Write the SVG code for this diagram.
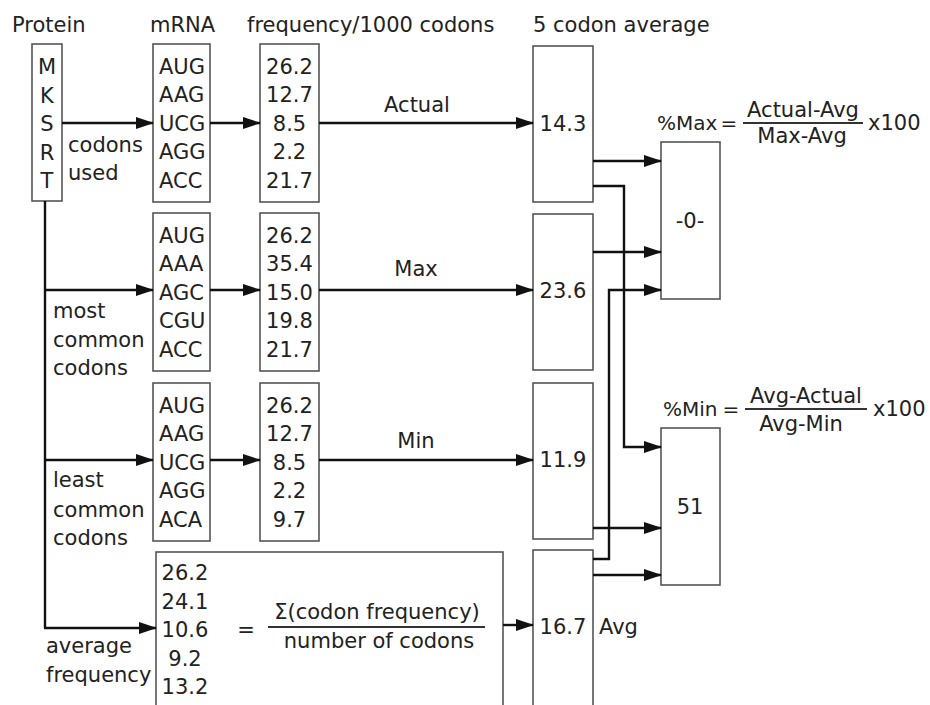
<svg xmlns="http://www.w3.org/2000/svg" width="930" height="705" viewBox="0 0 930 705">
<defs>
<style>
text{font-family:"DejaVu Sans","Liberation Sans",sans-serif;font-size:21px;fill:#222}
.c{text-anchor:middle}
.box{fill:#fff;stroke:#555;stroke-width:1.6}
.con{fill:none;stroke:#111;stroke-width:2.4}
.rule{stroke:#333;stroke-width:1.8}
.sm{font-size:20px}
</style>
<marker id="ah" markerUnits="userSpaceOnUse" markerWidth="18" markerHeight="12" refX="17" refY="6" orient="auto">
<path d="M0,0 L18,6 L0,12 z" fill="#111"/>
</marker>
</defs>
<rect width="930" height="705" fill="#fff"/>

<g id="headers">
<text x="12" y="32">Protein</text>
<text x="150" y="32">mRNA</text>
<text x="247" y="32">frequency/1000 codons</text>
<text x="533" y="32">5 codon average</text>
</g>

<g id="protein">
<rect class="box" x="32" y="44" width="30" height="157"/>
<text class="c" x="47" y="74">M</text>
<text class="c" x="47" y="102.5">K</text>
<text class="c" x="47" y="131">S</text>
<text class="c" x="47" y="159.5">R</text>
<text class="c" x="47" y="188">T</text>
</g>

<g id="mrna-actual">
<rect class="box" x="153" y="44" width="57" height="158"/>
<text x="159" y="73.5">AUG</text>
<text x="159" y="102">AAG</text>
<text x="159" y="130.5">UCG</text>
<text x="159" y="159">AGG</text>
<text x="159" y="187.5">ACC</text>
</g>
<g id="freq-actual">
<rect class="box" x="260" y="44" width="59" height="158"/>
<text class="c" x="289.5" y="73.5">26.2</text>
<text class="c" x="289.5" y="102">12.7</text>
<text class="c" x="289.5" y="130.5">8.5</text>
<text class="c" x="289.5" y="159">2.2</text>
<text class="c" x="289.5" y="187.5">21.7</text>
</g>

<g id="mrna-max">
<rect class="box" x="153" y="213" width="57" height="158"/>
<text x="159" y="242.5">AUG</text>
<text x="159" y="271">AAA</text>
<text x="159" y="299.5">AGC</text>
<text x="159" y="328">CGU</text>
<text x="159" y="356.5">ACC</text>
</g>
<g id="freq-max">
<rect class="box" x="260" y="213" width="59" height="158"/>
<text class="c" x="289.5" y="242.5">26.2</text>
<text class="c" x="289.5" y="271">35.4</text>
<text class="c" x="289.5" y="299.5">15.0</text>
<text class="c" x="289.5" y="328">19.8</text>
<text class="c" x="289.5" y="356.5">21.7</text>
</g>

<g id="mrna-min">
<rect class="box" x="153" y="383" width="57" height="158"/>
<text x="159" y="412.5">AUG</text>
<text x="159" y="441">AAG</text>
<text x="159" y="469.5">UCG</text>
<text x="159" y="498">AGG</text>
<text x="159" y="526.5">ACA</text>
</g>
<g id="freq-min">
<rect class="box" x="260" y="383" width="59" height="158"/>
<text class="c" x="289.5" y="412.5">26.2</text>
<text class="c" x="289.5" y="441">12.7</text>
<text class="c" x="289.5" y="469.5">8.5</text>
<text class="c" x="289.5" y="498">2.2</text>
<text class="c" x="289.5" y="526.5">9.7</text>
</g>

<g id="avg-freq">
<rect class="box" x="156" y="552" width="347" height="170"/>
<text class="c" x="185" y="580">26.2</text>
<text class="c" x="185" y="608.5">24.1</text>
<text class="c" x="185" y="637">10.6</text>
<text class="c" x="185" y="665.5">9.2</text>
<text class="c" x="185" y="694">13.2</text>
<text class="c" x="246" y="637">=</text>
<text class="c" x="377" y="619">Σ(codon frequency)</text>
<line class="rule" x1="268" y1="627" x2="485" y2="627"/>
<text class="c" x="379" y="648">number of codons</text>
</g>

<g id="avg-actual">
<rect class="box" x="533" y="46" width="60" height="156"/>
<text class="c" x="563" y="131">14.3</text>
</g>
<g id="avg-max">
<rect class="box" x="533" y="214" width="60" height="156"/>
<text class="c" x="563" y="298">23.6</text>
</g>
<g id="avg-min">
<rect class="box" x="533" y="383" width="60" height="156"/>
<text class="c" x="563" y="467">11.9</text>
</g>
<g id="avg-avg">
<rect class="box" x="533" y="550" width="60" height="170"/>
<text class="c" x="563" y="634">16.7</text>
<text x="599" y="634">Avg</text>
</g>

<g id="pct-max">
<rect class="box" x="661" y="142" width="59" height="157"/>
<text class="c" x="690" y="228">-0-</text>
<text class="sm" x="657" y="130">%Max</text>
<text class="c sm" x="729" y="130">=</text>
<text class="c" x="803" y="117">Actual-Avg</text>
<line class="rule" x1="743" y1="123" x2="863" y2="123"/>
<text class="c" x="802" y="143">Max-Avg</text>
<text x="868" y="130">x100</text>
</g>

<g id="pct-min">
<rect class="box" x="661" y="428" width="59" height="157"/>
<text class="c" x="690" y="514">51</text>
<text class="sm" x="663" y="416">%Min</text>
<text class="c sm" x="731" y="416">=</text>
<text class="c" x="806" y="403">Avg-Actual</text>
<line class="rule" x1="745" y1="409" x2="867" y2="409"/>
<text class="c" x="801" y="431">Avg-Min</text>
<text x="873" y="416">x100</text>
</g>

<g id="labels">
<text x="68" y="152">codons</text>
<text x="68" y="180">used</text>
<text x="53" y="318">most</text>
<text x="53" y="347">common</text>
<text x="53" y="375">codons</text>
<text x="53" y="487">least</text>
<text x="53" y="517">common</text>
<text x="53" y="545">codons</text>
<text x="46" y="653">average</text>
<text x="46" y="682">frequency</text>
<text class="c" x="417" y="112">Actual</text>
<text class="c" x="416" y="276">Max</text>
<text class="c" x="416" y="448">Min</text>
</g>

<g id="connectors">
<line class="con" x1="45" y1="201" x2="45" y2="628"/>
<line class="con" x1="62" y1="123" x2="153" y2="123" marker-end="url(#ah)"/>
<line class="con" x1="210" y1="123" x2="260" y2="123" marker-end="url(#ah)"/>
<line class="con" x1="319" y1="123" x2="533" y2="123" marker-end="url(#ah)"/>
<line class="con" x1="44" y1="290" x2="153" y2="290" marker-end="url(#ah)"/>
<line class="con" x1="210" y1="290" x2="260" y2="290" marker-end="url(#ah)"/>
<line class="con" x1="319" y1="290" x2="533" y2="290" marker-end="url(#ah)"/>
<line class="con" x1="44" y1="460" x2="153" y2="460" marker-end="url(#ah)"/>
<line class="con" x1="210" y1="460" x2="260" y2="460" marker-end="url(#ah)"/>
<line class="con" x1="319" y1="460" x2="533" y2="460" marker-end="url(#ah)"/>
<polyline class="con" points="44,628 156,628" marker-end="url(#ah)"/>
<line class="con" x1="503" y1="625" x2="533" y2="625" marker-end="url(#ah)"/>
<line class="con" x1="593" y1="161" x2="661" y2="161" marker-end="url(#ah)"/>
<polyline class="con" points="593,186 624,186 624,447 661,447" marker-end="url(#ah)"/>
<line class="con" x1="593" y1="252" x2="661" y2="252" marker-end="url(#ah)"/>
<polyline class="con" points="593,559 609,559 609,290 661,290" marker-end="url(#ah)"/>
<line class="con" x1="593" y1="528" x2="661" y2="528" marker-end="url(#ah)"/>
<line class="con" x1="593" y1="575" x2="661" y2="575" marker-end="url(#ah)"/>
</g>
</svg>
